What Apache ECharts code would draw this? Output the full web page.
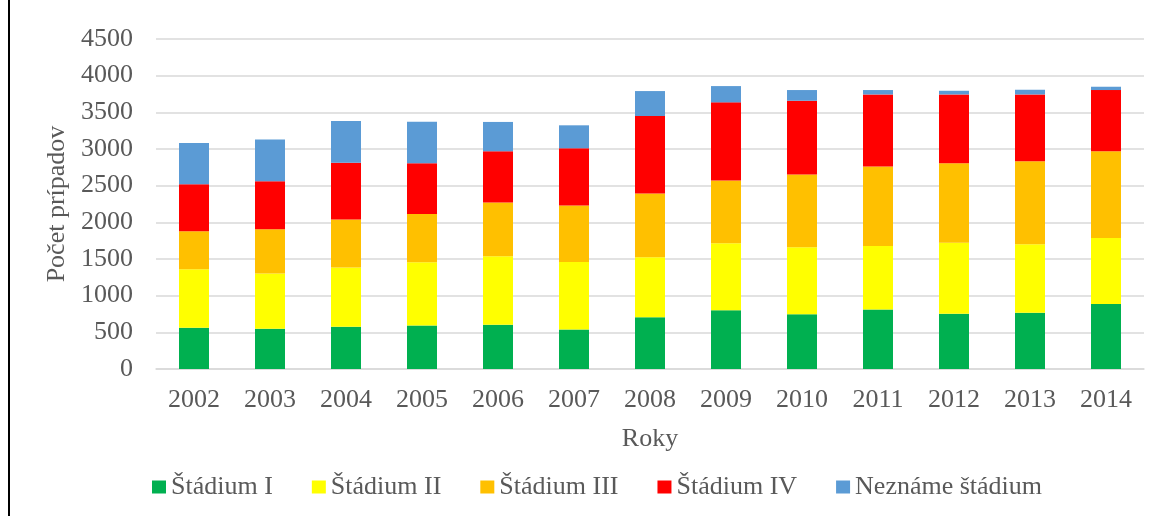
<!DOCTYPE html>
<html>
<head>
<meta charset="utf-8">
<script src="https://cdn.jsdelivr.net/npm/echarts@6/dist/echarts.min.js"></script>
<style>html,body{margin:0;padding:0;background:#fff;}#c{width:1160px;height:516px;}</style>
</head>
<body>
<div id="c"></div>
<script>
const years = ['2002','2003','2004','2005','2006','2007','2008','2009','2010','2011','2012','2013','2014'];
const stadiumI   = [562, 548, 575, 594, 603, 540, 707, 802, 748, 812, 752, 766, 888];
const stadiumII  = [798, 753, 808, 861, 934, 920, 816, 912, 911, 865, 971, 934, 898];
const stadiumIII = [517, 603, 657, 657, 734, 770, 871, 856, 993, 1084, 1083, 1133, 1183];
const stadiumIV  = [643, 657, 771, 694, 698, 780, 1056, 1066, 1006, 983, 938, 911, 835];
const nezname    = [563, 567, 571, 567, 400, 313, 340, 222, 146, 60, 50, 64, 45];
const seriesNames = ['Štádium I','Štádium II','Štádium III','Štádium IV','Neznáme štádium'];
const colors = ['#00b050','#ffff00','#ffc000','#ff0000','#5b9bd5'];
const yTicks = { min: 0, max: 4500, interval: 500 };

const font = 'Liberation Serif, Times New Roman, serif';
const txt = '#595959';
const fs = 26;
const chart = echarts.init(document.getElementById('c'));
const dataSets = [stadiumI, stadiumII, stadiumIII, stadiumIV, nezname];
chart.setOption({
  animation: false,
  color: colors,
  textStyle: { fontFamily: font },
  grid: { left: 156, right: 16, top: 39, bottom: 147, containLabel: false },
  legend: {
    top: 469, left: 147, itemWidth: 14, itemHeight: 13, itemGap: 39,
    icon: 'rect',
    textStyle: { fontFamily: font, fontSize: fs, color: txt },
    data: seriesNames
  },
  xAxis: {
    type: 'category', data: years,
    name: 'Roky', nameLocation: 'middle', nameGap: 57,
    nameTextStyle: { fontFamily: font, fontSize: fs, color: txt },
    axisLine: { show: true, lineStyle: { color: '#d9d9d9', width: 1.5 } },
    axisTick: { show: false },
    axisLabel: { fontFamily: font, fontSize: fs, color: txt, margin: 18 }
  },
  yAxis: {
    type: 'value', min: yTicks.min, max: yTicks.max, interval: yTicks.interval,
    name: 'Počet prípadov', nameLocation: 'middle', nameGap: 81, nameRotate: 90,
    nameTextStyle: { fontFamily: font, fontSize: fs, color: txt },
    axisLine: { show: false }, axisTick: { show: false },
    axisLabel: { fontFamily: font, fontSize: fs, color: txt, margin: 23, formatter: v => String(v) },
    splitLine: { lineStyle: { color: '#d9d9d9', width: 1.5 } }
  },
  graphic: [{
    type: 'line', shape: { x1: 9, y1: 0, x2: 9, y2: 516 },
    style: { stroke: '#000', lineWidth: 2 }
  }],
  series: dataSets.map((d, i) => ({
    name: seriesNames[i], type: 'bar', stack: 'total', data: d,
    barWidth: 30, itemStyle: { color: colors[i] }
  }))
});
</script>
</body>
</html>
